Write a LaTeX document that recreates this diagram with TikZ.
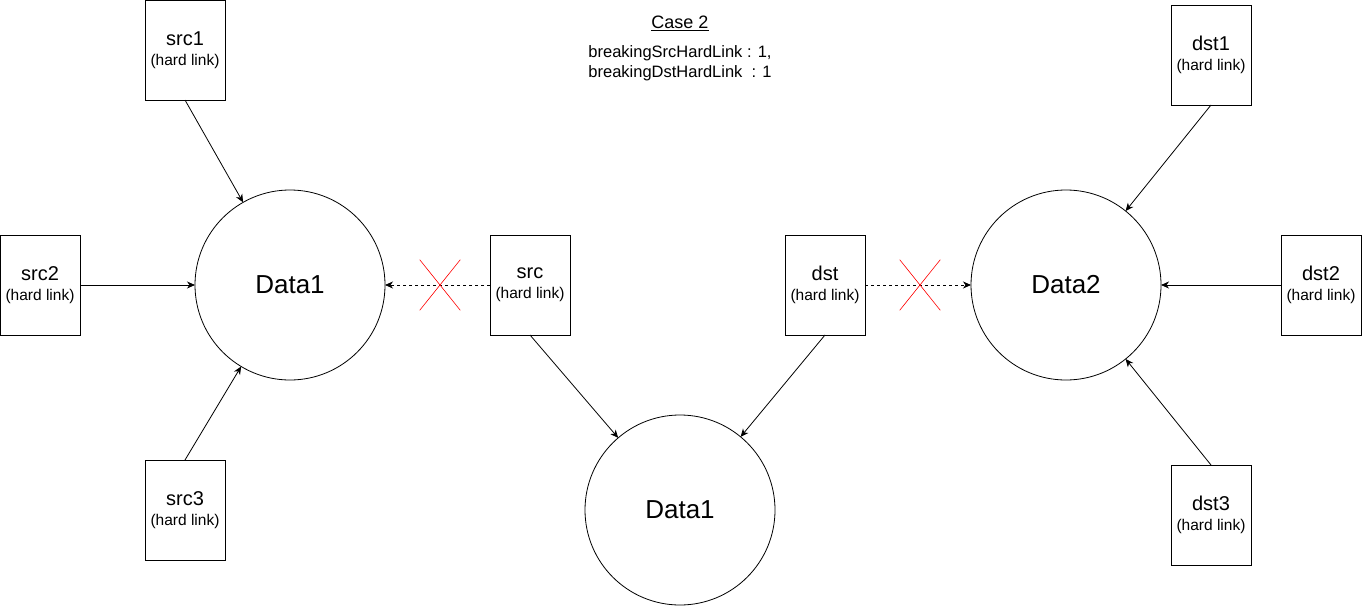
\documentclass[tikz,border=0pt]{standalone}
\usepackage{fontspec}
\setmainfont{Liberation Sans}
\usetikzlibrary{arrows.meta,shapes.misc}
\newcommand{\hardlink}{{\fontsize{15.5}{20}\selectfont (hard link)}}

\begin{document}
\begin{tikzpicture}[x=1pt,y=-1pt,line width=0.8pt,
  linkbox/.style={draw,rectangle,minimum width=80pt,minimum height=100pt,inner sep=0pt,outer sep=0pt,align=center,font=\fontsize{20}{20}\selectfont},
  datacircle/.style={draw,circle,minimum size=190pt,inner sep=0pt,outer sep=0pt,font=\fontsize{26}{30}\selectfont},
  link/.style={-{Stealth[length=8pt,width=7pt,inset=2.5pt]}},
  broken/.style={link,dash pattern=on 3pt off 3pt},
  cut/.style={draw=red,cross out,minimum width=40pt,minimum height=50pt,inner sep=0pt,line width=0.6pt}]
\useasboundingbox (0,0) rectangle (1370,607);

\node (title) at (680,23) {\fontsize{18}{20}\selectfont\underline{Case 2}};
\node[align=center,font=\fontsize{16.5}{20}\selectfont] (flags) at (680,63) {breakingSrcHardLink : 1,\\ breakingDstHardLink\ \ : 1};

\node[datacircle] (data1) at (290,285) {Data1};
\node[datacircle] (data1b) at (680,510) {Data1};
\node[datacircle] (data2) at (1066,285) {Data2};

\node[linkbox] (src1) at (185,50) {src1\\\hardlink};
\node[linkbox] (src2) at (40,285) {src2\\\hardlink};
\node[linkbox] (src3) at (185,510) {src3\\\hardlink};
\node[linkbox] (src) at (530,285) {src\\\hardlink};
\node[linkbox] (dst) at (825,285) {dst\\\hardlink};
\node[linkbox] (dst1) at (1211,55) {dst1\\\hardlink};
\node[linkbox] (dst2) at (1321,285) {dst2\\\hardlink};
\node[linkbox] (dst3) at (1211,515) {dst3\\\hardlink};

\draw[link] (src1.south) -- (data1);
\draw[link] (src2) -- (data1);
\draw[link] (src3.north) -- (data1);
\draw[broken] (src) -- (data1);
\draw[link] (src.south) -- (data1b);
\draw[link] (dst.south) -- (data1b);
\draw[broken] (dst) -- (data2);
\draw[link] (dst1.south) -- (data2);
\draw[link] (dst2) -- (data2);
\draw[link] (dst3.north) -- (data2);

\node[cut] (cutsrc) at (440,285) {};
\node[cut] (cutdst) at (920,285) {};
\end{tikzpicture}
\end{document}
